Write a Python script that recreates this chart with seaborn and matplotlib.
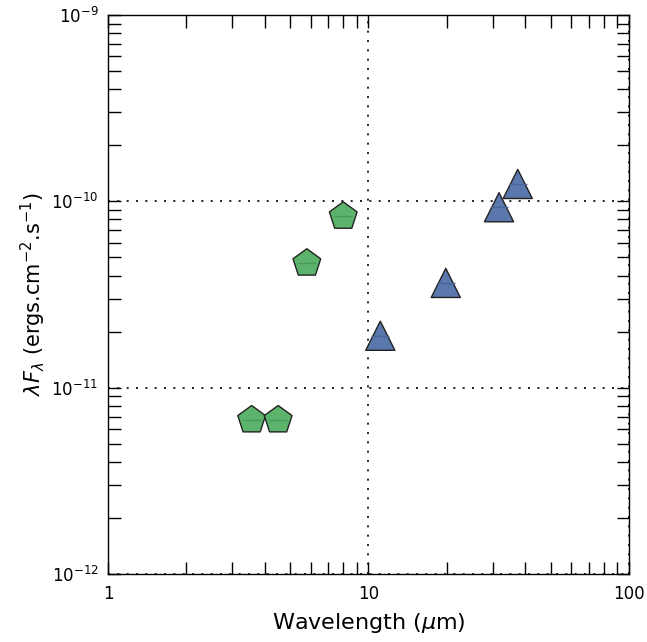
import numpy as np
import pandas as pd
import matplotlib
matplotlib.use("Agg")
import matplotlib.pyplot as plt
import seaborn as sns
from matplotlib.ticker import LogLocator, LogFormatterSciNotation, NullFormatter, FuncFormatter

# Data
irac_wl = [3.56, 4.5, 5.8, 8.0]
irac_flux = [6.7e-12, 6.7e-12, 4.65e-11, 8.3e-11]
forcast_wl = [11.1, 19.8, 31.7, 37.4]
forcast_flux = [1.9e-11, 3.65e-11, 9.3e-11, 1.24e-10]

groups = ["IRAC"] * len(irac_wl) + ["FORCAST"] * len(forcast_wl)
df = pd.DataFrame({
    "wl": irac_wl + forcast_wl,
    "flux": irac_flux + forcast_flux,
    "group": groups,
})

sns.set_style("ticks")
plt.rcParams["font.family"] = ["DejaVu Sans"]
plt.rcParams["mathtext.fontset"] = "dejavusans"
plt.rcParams["text.color"] = "black"
plt.rcParams["axes.labelcolor"] = "black"
plt.rcParams["xtick.color"] = "black"
plt.rcParams["ytick.color"] = "black"

fig = plt.figure(figsize=(6.47, 6.42), dpi=100)
ax = fig.add_axes([0.1669, 0.1059, 0.9722 - 0.1669, 0.9766 - 0.1059])

palette = {"IRAC": "#5cb46c", "FORCAST": "#5a78ad"}
line_col = {"IRAC": "#4a9a5a", "FORCAST": "#4a6699"}
markers = {"IRAC": "p", "FORCAST": "^"}

sns.scatterplot(data=df, x="wl", y="flux", hue="group", style="group",
                palette=palette, markers=markers, s=440,
                edgecolor="#222222", linewidth=1.0, legend=False, ax=ax,
                zorder=3)
for g in ["IRAC", "FORCAST"]:
    sub = df[df.group == g]
    ax.scatter(sub.wl, sub.flux, marker="_", s=180, color=line_col[g],
               linewidths=1.0, zorder=4)

ax.set_xscale("log")
ax.set_yscale("log")
ax.set_xlim(1, 100)
ax.set_ylim(1e-12, 1e-9)

ax.xaxis.set_major_locator(LogLocator(base=10))
ax.xaxis.set_major_formatter(FuncFormatter(lambda v, p: "%d" % round(v)))
ax.xaxis.set_minor_locator(LogLocator(base=10, subs=np.arange(2, 10)))
ax.xaxis.set_minor_formatter(NullFormatter())
ax.yaxis.set_major_locator(LogLocator(base=10))
ax.yaxis.set_major_formatter(LogFormatterSciNotation())
ax.yaxis.set_minor_locator(LogLocator(base=10, subs=np.arange(2, 10)))
ax.yaxis.set_minor_formatter(NullFormatter())

ax.tick_params(which="both", direction="in", top=True, right=True,
               length=9, width=1, color="black", labelsize=12, pad=7,
               labelcolor="black")
ax.tick_params(axis="x", pad=8)

ax.grid(True, which="major", color="black", linewidth=1.2,
        linestyle=(0, (1.2, 4.4)))
for sp in ax.spines.values():
    sp.set_color("black")
    sp.set_linewidth(1)
    sp.set_visible(True)

ax.set_xlabel(r"Wavelength ($\mu$m)", fontsize=16, labelpad=6, color="black")
ax.set_ylabel(r"$\lambda F_\lambda$ (ergs.cm$^{-2}$.s$^{-1}$)", fontsize=15,
              labelpad=2, color="black")

fig.savefig("out.png", dpi=100)
